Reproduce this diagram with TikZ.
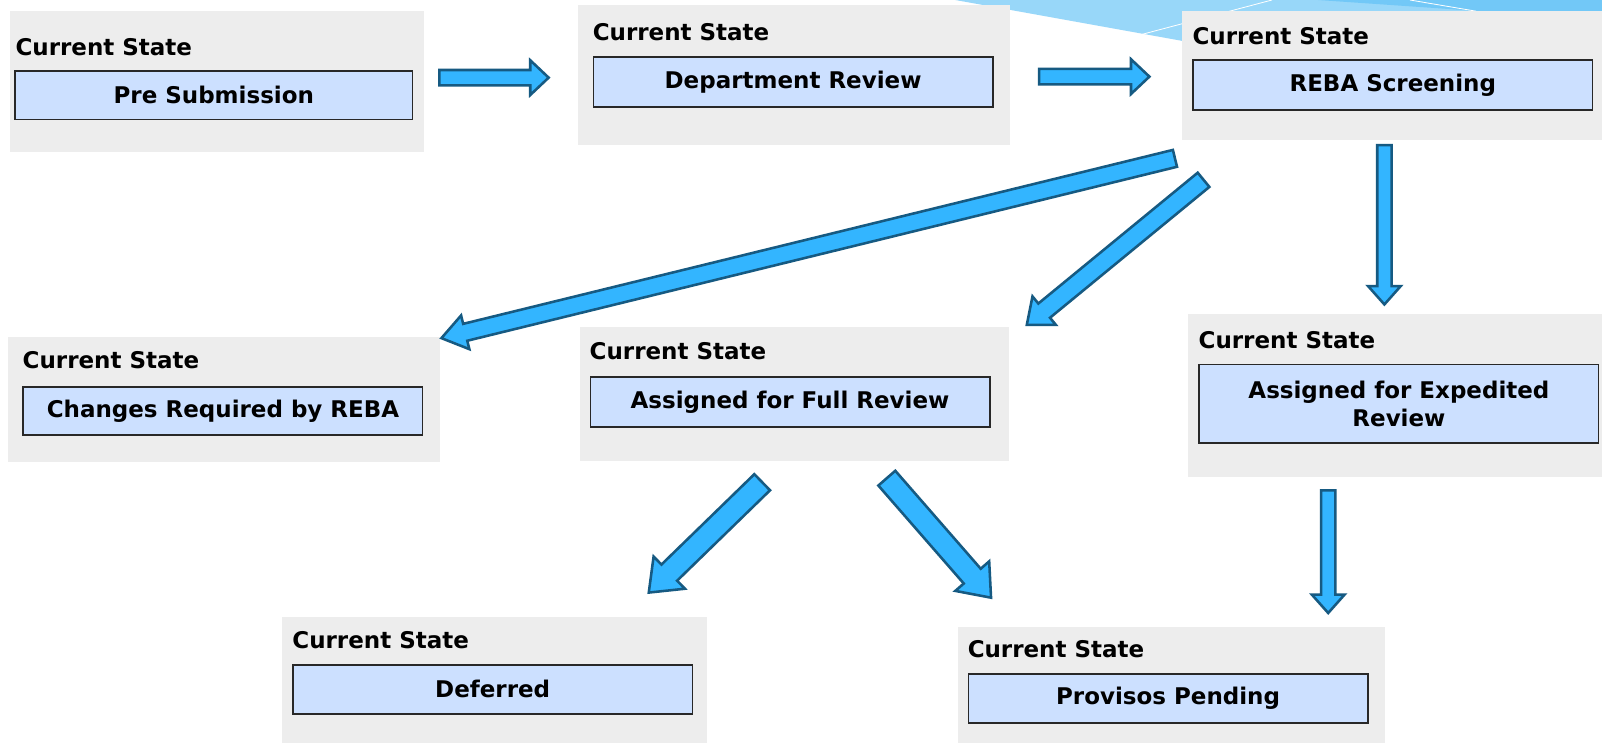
\documentclass[tikz,border=0pt]{standalone}
\usepackage{fontspec}
\setmainfont{DejaVu Sans}
\usetikzlibrary{calc}
\definecolor{graybg}{RGB}{237,237,237}
\definecolor{boxfill}{RGB}{204,224,255}
\definecolor{boxline}{RGB}{40,40,40}
\definecolor{arrfill}{RGB}{51,181,255}
\definecolor{arrline}{RGB}{22,90,130}
\definecolor{decolight}{RGB}{152,215,249}
\definecolor{decodark}{RGB}{114,200,247}
\newcommand\blockarrow[5]{%
 \path let \p1=($(#2)-(#1)$) in \pgfextra{%
   \pgfmathsetmacro\myang{atan2(\y1,\x1)}%
   \pgfmathsetmacro\mylen{veclen(\x1,\y1)}%
   \global\let\myang\myang \global\let\mylen\mylen};
 \draw[blockarr, shift={(#1)}, rotate=\myang] (0,-#3) -- ({\mylen-#5},-#3) -- ({\mylen-#5},-#4) -- (\mylen,0) -- ({\mylen-#5},#4) -- ({\mylen-#5},#3) -- (0,#3) -- cycle;
}
\begin{document}
\begin{tikzpicture}[x=1pt,y=-1pt,
  graybox/.style={fill=graybg, draw=none, anchor=north west, inner sep=0pt},
  statebox/.style={fill=boxfill, draw=boxline, line width=1.5pt, anchor=north west, inner sep=0pt, align=center, font=\fontsize{22.5}{27}\selectfont\bfseries},
  lbl/.style={anchor=base west, inner sep=0pt, font=\fontsize{22.5}{27}\selectfont\bfseries},
  blockarr/.style={fill=arrfill, draw=arrline, line width=2.5pt, line join=miter}]
\useasboundingbox (0,0) rectangle (1568,727);
\fill[white] (0,0) rectangle (1568,727);
% background decoration
\fill[decolight] (935,0) -- (1157,40) -- (1568,40) -- (1568,0) -- cycle;
\fill[decodark] (1290,0) -- (1568,0) -- (1568,11) -- (1450,11) -- cycle;
\draw[white, line width=0.8pt] (1105,37) -- (1245,0);
\draw[white, line width=0.8pt] (1380,0) -- (1445,11);
% state boxes
\node[graybox, minimum width=405pt, minimum height=138pt] (g1) at (10,11) {};
\node[statebox, minimum width=389pt, minimum height=47pt] (b1) at (14,69) {Pre Submission};
\node[lbl] (l1) at (15,54) {Current State};

\node[graybox, minimum width=422pt, minimum height=137pt] (g2) at (566,5) {};
\node[statebox, minimum width=391pt, minimum height=49pt] (b2) at (580,55) {Department Review};
\node[lbl] (l2) at (580,40) {Current State};

\node[graybox, minimum width=411pt, minimum height=126pt] (g3) at (1157,11) {};
\node[statebox, minimum width=391pt, minimum height=49pt] (b3) at (1167,58) {REBA Screening};
\node[lbl] (l3) at (1167,44) {Current State};

\node[graybox, minimum width=422pt, minimum height=122pt] (g4) at (8,330) {};
\node[statebox, minimum width=391pt, minimum height=47pt] (b4) at (22,378) {Changes Required by REBA};
\node[lbl] (l4) at (22,361) {Current State};

\node[graybox, minimum width=420pt, minimum height=131pt] (g5) at (567,320) {};
\node[statebox, minimum width=391pt, minimum height=49pt] (b5) at (577,368) {Assigned for Full Review};
\node[lbl] (l5) at (577,352) {Current State};

\node[graybox, minimum width=405pt, minimum height=160pt] (g6) at (1163,307) {};
\node[statebox, minimum width=391pt, minimum height=77pt] (b6) at (1173,356) {Assigned for Expedited\\Review};
\node[lbl] (l6) at (1173,341) {Current State};

\node[graybox, minimum width=416pt, minimum height=123pt] (g7) at (276,604) {};
\node[statebox, minimum width=391pt, minimum height=48pt] (b7) at (286,650) {Deferred};
\node[lbl] (l7) at (286,635) {Current State};

\node[graybox, minimum width=418pt, minimum height=114pt] (g8) at (937,613) {};
\node[statebox, minimum width=391pt, minimum height=48pt] (b8) at (947,659) {Provisos Pending};
\node[lbl] (l8) at (947,644) {Current State};

% arrow end points
\coordinate (t1) at (430,76);   \coordinate (h1) at (537,76);
\coordinate (t2) at (1017,75);  \coordinate (h2) at (1125,75);
\coordinate (t3) at (1150,155); \coordinate (h3) at (432,331);
\coordinate (t4) at (1178,176); \coordinate (h4) at (1005,318);
\coordinate (t5) at (1355,142); \coordinate (h5) at (1355,298);
\coordinate (t6) at (746,472);  \coordinate (h6) at (635,580);
\coordinate (t7) at (868,468);  \coordinate (h7) at (970,585);
\coordinate (t8) at (1300,480); \coordinate (h8) at (1300,600);
\blockarrow{t1}{h1}{7.5}{17}{18}
\blockarrow{t2}{h2}{7.5}{17}{18}
\blockarrow{t3}{h3}{8.5}{17}{24}
\blockarrow{t4}{h4}{9}{18}{22}
\blockarrow{t5}{h5}{7}{16}{18}
\blockarrow{t6}{h6}{11}{22}{28}
\blockarrow{t7}{h7}{11}{22}{28}
\blockarrow{t8}{h8}{7}{16}{18}
\end{tikzpicture}
\end{document}
